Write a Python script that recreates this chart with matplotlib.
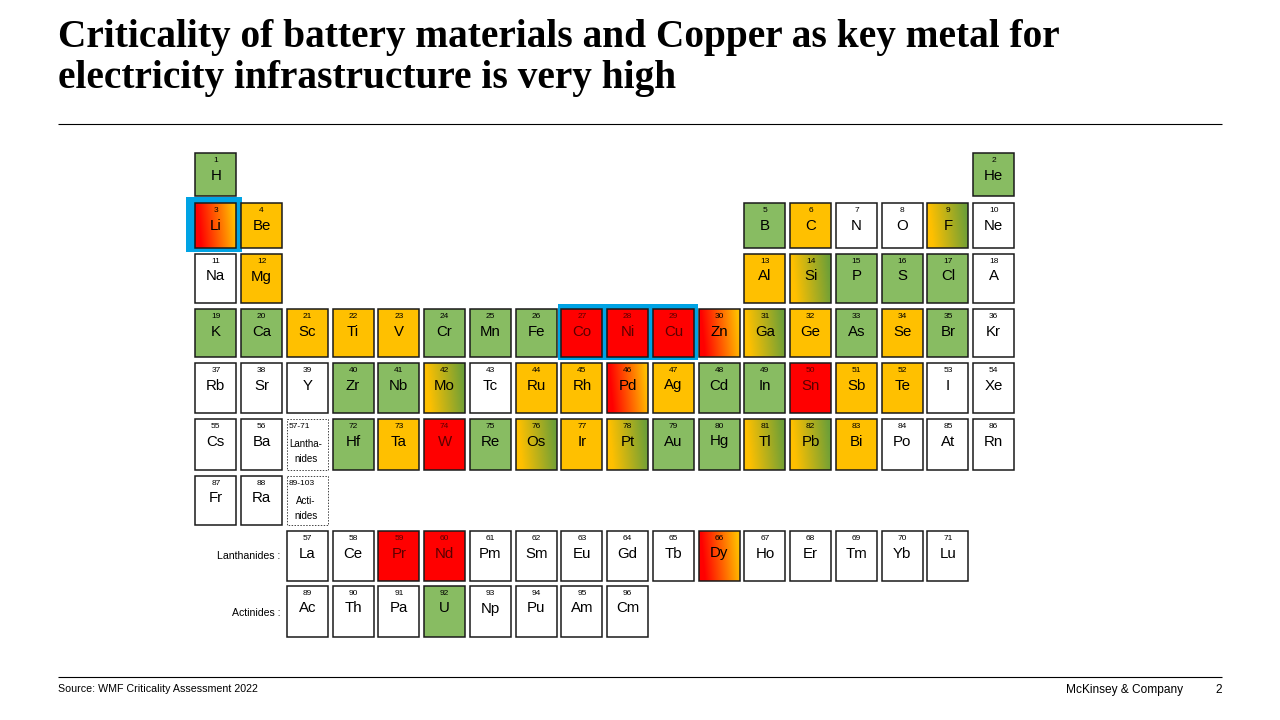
import numpy as np
import matplotlib
matplotlib.use('Agg')
import matplotlib.pyplot as plt
from matplotlib.colors import to_rgb
from matplotlib.patches import Rectangle

title = 'Criticality of battery materials and Copper as key metal for\nelectricity infrastructure is very high'
source = 'Source: WMF Criticality Assessment 2022'

# symbols by atomic number, 1 to 96 (the reference prints Ar as "A")
symbols = ['H', 'He', 'Li', 'Be', 'B', 'C', 'N', 'O', 'F', 'Ne', 'Na', 'Mg', 'Al', 'Si', 'P', 'S',
           'Cl', 'A', 'K', 'Ca', 'Sc', 'Ti', 'V', 'Cr', 'Mn', 'Fe', 'Co', 'Ni', 'Cu', 'Zn', 'Ga',
           'Ge', 'As', 'Se', 'Br', 'Kr', 'Rb', 'Sr', 'Y', 'Zr', 'Nb', 'Mo', 'Tc', 'Ru', 'Rh', 'Pd',
           'Ag', 'Cd', 'In', 'Sn', 'Sb', 'Te', 'I', 'Xe', 'Cs', 'Ba', 'La', 'Ce', 'Pr', 'Nd', 'Pm',
           'Sm', 'Eu', 'Gd', 'Tb', 'Dy', 'Ho', 'Er', 'Tm', 'Yb', 'Lu', 'Hf', 'Ta', 'W', 'Re', 'Os',
           'Ir', 'Pt', 'Au', 'Hg', 'Tl', 'Pb', 'Bi', 'Po', 'At', 'Rn', 'Fr', 'Ra', 'Ac', 'Th', 'Pa',
           'U', 'Np', 'Pu', 'Am', 'Cm']

# criticality groups, atomic numbers
green = [1, 2, 5, 15, 16, 17, 19, 20, 24, 25, 26, 33, 35, 40, 41, 48, 49, 72, 75, 79, 80, 92]
orange = [4, 6, 12, 13, 21, 22, 23, 32, 34, 44, 45, 47, 51, 52, 73, 77, 83]
red = [27, 28, 29, 50, 59, 60, 74]
red_orange = [3, 30, 46, 66]
orange_green = [9, 14, 31, 42, 76, 78, 81, 82]
highlighted = [[3], [27, 28, 29]]

GREEN, ORANGE, RED, BLUE = '#88BC62', '#FFC000', '#FF0000', '#00A3E4'
GREEN_DARK = '#6C9F38'

# pixel layout of the table
row_top = [153, 203, 254, 309, 363, 419, 476, 531, 586]
row_bot = [196, 248, 303, 357, 413, 470, 525, 581, 637]
col_left, col_step, cell_w = 195.3, 45.76, 41


def position(z):
    # row and column of an element in the long form table
    if z == 1:
        return 0, 0
    if z == 2:
        return 0, 17
    if z <= 4:
        return 1, z - 3
    if z <= 10:
        return 1, z + 7
    if z <= 12:
        return 2, z - 11
    if z <= 18:
        return 2, z - 1
    if z <= 36:
        return 3, z - 19
    if z <= 54:
        return 4, z - 37
    if z <= 56:
        return 5, z - 55
    if z <= 71:
        return 7, z - 55
    if z <= 86:
        return 5, z - 69
    if z <= 88:
        return 6, z - 87
    return 8, z - 87


def cell_box(r, c):
    x0 = col_left + c * col_step
    return x0, row_top[r], x0 + cell_w, row_bot[r]


fig = plt.figure(figsize=(12.8, 7.2), dpi=100)
ax = fig.add_axes([0, 0, 1, 1])
sans = 'Liberation Sans'

# blue frames go under the cells
for group in highlighted:
    boxes = [cell_box(*position(z)) for z in group]
    x0, y0 = boxes[0][:2]
    x1, y1 = boxes[-1][2:]
    pad_l, pad_r, pad_t, pad_b = (9, 6, 6, 4) if len(group) == 1 else (3, 4, 5, 3)
    ax.add_patch(Rectangle((x0 - pad_l, y0 - pad_t), x1 - x0 + pad_l + pad_r, y1 - y0 + pad_t + pad_b,
                           fc=BLUE, ec='none', zorder=1))


def gradient(c0, c1, w=60, h=60):
    xx, yy = np.meshgrid(np.linspace(0, 1, w), np.linspace(0, 1, h))
    t = np.clip((xx * 1.1 - 0.1 + (0.5 - yy) * 0.12), 0, 1)[..., None]
    return np.array(to_rgb(c0)) * (1 - t) + np.array(to_rgb(c1)) * t


for i, sym in enumerate(symbols):
    z = i + 1
    r, c = position(z)
    x0, y0, x1, y1 = cell_box(r, c)
    fill = 'white'
    if z in green:
        fill = GREEN
    elif z in orange:
        fill = ORANGE
    elif z in red:
        fill = RED
    elif z in red_orange:
        ax.imshow(gradient(RED, ORANGE), extent=(x0, x1, y1, y0), aspect='auto', zorder=2)
        fill = 'none'
    elif z in orange_green:
        ax.imshow(gradient(ORANGE, GREEN_DARK), extent=(x0, x1, y1, y0), aspect='auto', zorder=2)
        fill = 'none'
    if fill != 'none':
        ax.add_patch(Rectangle((x0, y0), cell_w, y1 - y0, fc=fill, ec='none', zorder=2))
    ax.add_patch(Rectangle((x0, y0), cell_w, y1 - y0, fc='none', ec='#1a1a1a', lw=1.1, zorder=3))
    txt = '#5a0000' if z in red else 'black'
    ax.text((x0 + x1) / 2, y0 + 7.5, str(z), ha='center', va='center', fontsize=6,
            family=sans, color=txt, zorder=4)
    ax.text((x0 + x1) / 2, y0 + 22.5, sym, ha='center', va='center', fontsize=10.8,
            family=sans, color=txt, zorder=4)

# placeholder boxes for the two series
for r, nums, lines in [(5, '57-71', 'Lantha-\nnides'), (6, '89-103', 'Acti-\nnides')]:
    x0, y0, x1, y1 = cell_box(r, 2)
    ax.add_patch(Rectangle((x0, y0), cell_w, y1 - y0, fc='white', ec='#444444', lw=0.7,
                           ls=(0, (1.5, 1.5)), zorder=3))
    ax.text(x0 + 2, y0 + 7.5, nums, ha='left', va='center', fontsize=6, family=sans, zorder=4)
    ax.text((x0 + x1) / 2 - 1.5, y0 + 32.5, lines, ha='center', va='center', fontsize=7, family=sans,
            linespacing=1.55, zorder=4)

ax.text(280, 556, 'Lanthanides :', ha='right', va='center', fontsize=7.6, family=sans)
ax.text(280, 613, 'Actinides :', ha='right', va='center', fontsize=7.6, family=sans)

# title, rules and footer
ax.text(58, 58, title, ha='left', va='center', fontsize=28.4, family='Liberation Serif', weight='bold',
        linespacing=1.13)
ax.plot([58, 1222], [124, 124], color='black', lw=0.8, solid_capstyle='butt')
ax.plot([58, 1222], [677, 677], color='black', lw=0.8, solid_capstyle='butt')
ax.text(58, 689.5, source, ha='left', va='center', fontsize=7.7, family=sans)
ax.text(1183, 690, 'McKinsey & Company', ha='right', va='center', fontsize=8.6, family=sans)
ax.text(1222, 690, '2', ha='right', va='center', fontsize=8.6, family=sans)

ax.set_xlim(0, 1280)
ax.set_ylim(720, 0)
ax.axis('off')
fig.savefig('out.png', dpi=100, facecolor='white')
